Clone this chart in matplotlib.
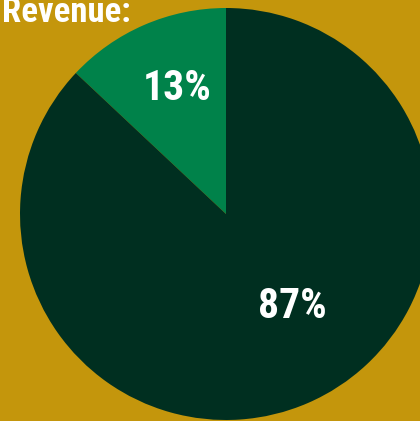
import matplotlib.pyplot as plt
from matplotlib import font_manager

labels = ["13%", "87%"]
shares = [13, 87]
colors = ["#00824A", "#002F20"]
title = "Revenue:"

BG = "#C4960C"

# narrow bold font like the original, if one is installed
names = {f.name for f in font_manager.fontManager.ttflist}
FONT = [n for n in ["Roboto Condensed", "Liberation Sans Narrow",
                    "DejaVu Sans Condensed"] if n in names]
FONT.append("DejaVu Sans")

fig = plt.figure(figsize=(4.2, 4.21), dpi=100, facecolor=BG)
ax = fig.add_axes([0, 0, 1, 1])
ax.set_facecolor(BG)

ax.pie(
    shares,
    colors=colors,
    startangle=90,
    center=(226, 207),
    radius=206,
    frame=True,
    wedgeprops={"linewidth": 0},
)
ax.set_xlim(0, 420)
ax.set_ylim(0, 421)
ax.set_aspect("equal")
ax.axis("off")

ax.text(177, 332, labels[0], color="white", fontsize=30, fontweight="bold",
        fontstretch="condensed", family=FONT, ha="center", va="center")
ax.text(292, 114, labels[1], color="white", fontsize=30, fontweight="bold",
        fontstretch="condensed", family=FONT, ha="center", va="center")
ax.text(2, 399, title, color="white", fontsize=25, fontweight="bold",
        fontstretch="condensed", family=FONT, ha="left", va="baseline")

fig.savefig("out.png", dpi=100, facecolor=BG)
